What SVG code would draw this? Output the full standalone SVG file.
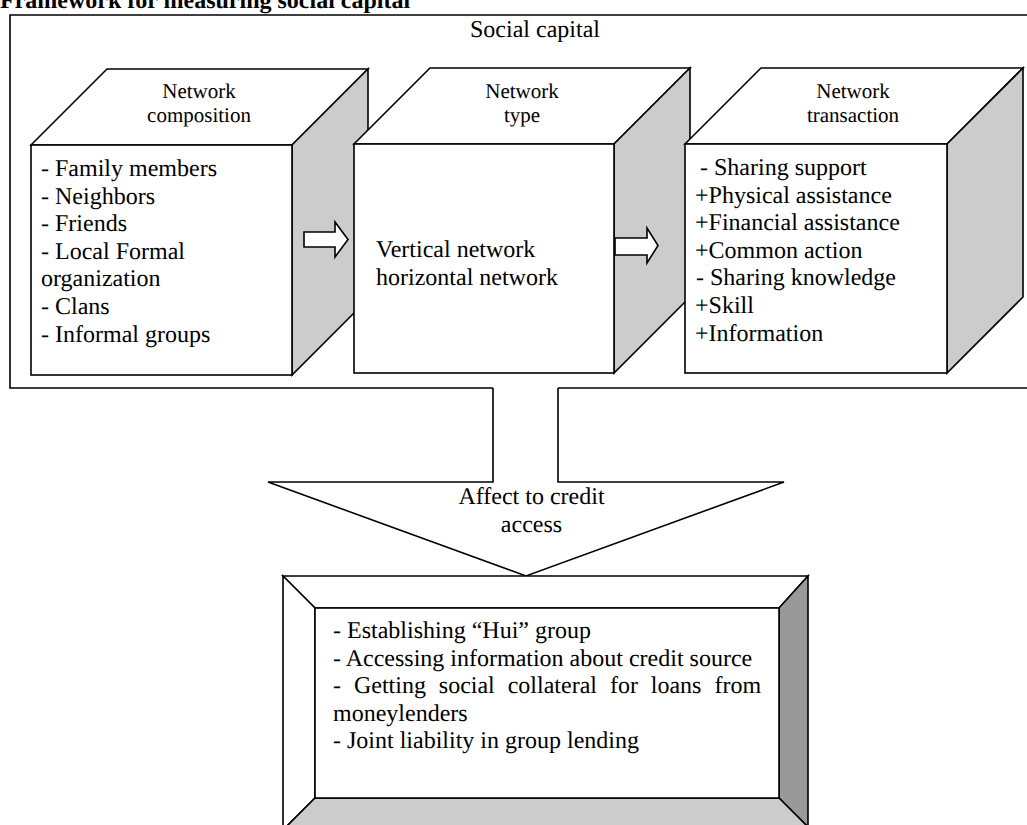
<svg xmlns="http://www.w3.org/2000/svg" width="1027" height="825" viewBox="0 0 1027 825" text-rendering="geometricPrecision">
<style>
text{font-family:"Liberation Serif","Times New Roman",serif;fill:#000;text-rendering:geometricPrecision}
.ln{fill:none;stroke:#000;stroke-width:1.6}
.w{fill:#fff;stroke:#000;stroke-width:1.6;stroke-linejoin:miter}
.g{fill:#cccccc;stroke:#000;stroke-width:1.6}
.dg{fill:#999999;stroke:#000;stroke-width:1.6}
.lbl{font-family:"Liberation Serif","Times New Roman",serif;font-size:21px;text-anchor:middle}
.bt{font-family:"Liberation Serif","Times New Roman",serif;font-size:24px}
</style>
<rect width="1027" height="825" fill="#fff"/>
<text x="0" y="8" font-family="Liberation Serif, Times New Roman, serif" font-size="24" font-weight="bold">Framework for measuring social capital</text>
<g id="frame">
<path class="ln" d="M493,388 L10,388 L10,15 L1027,15"/>
<path class="ln" d="M558,388 L1027,388"/>
<text x="535" y="37" class="bt" text-anchor="middle">Social capital</text>
</g>
<g id="composition">
<polygon class="w" points="31,145 107,69 368,69 292,145"/>
<polygon class="g" points="292,145 368,69 368,299 292,375"/>
<rect class="w" x="31" y="145" width="261" height="230"/>
<text class="lbl" x="199" y="98">Network</text>
<text class="lbl" x="199" y="121.5">composition</text>
<text class="bt" x="41" y="176">- Family members</text>
<text class="bt" x="41" y="203.6">- Neighbors</text>
<text class="bt" x="41" y="231.2">- Friends</text>
<text class="bt" x="41" y="258.8">- Local Formal</text>
<text class="bt" x="41" y="286.4">organization</text>
<text class="bt" x="41" y="314">- Clans</text>
<text class="bt" x="41" y="341.6">- Informal groups</text>
</g>
<g id="connectors">
<polygon class="w" points="304,232 335,232 335,222 348,239.5 335,257 335,247 304,247"/>
<path class="w" d="M493,388 L493,482 L268,482 L526,576 L784,482 L558,482 L558,388"/>
<text class="bt" x="531.5" y="504" text-anchor="middle">Affect to credit</text>
<text class="bt" x="531.5" y="531.6" text-anchor="middle">access</text>
</g>
<g id="type">
<polygon class="w" points="354,144 430,68 690,68 614,144"/>
<polygon class="g" points="614,144 690,68 690,297 614,373"/>
<rect class="w" x="354" y="144" width="260" height="229"/>
<text class="lbl" x="522" y="98">Network</text>
<text class="lbl" x="522" y="121.5">type</text>
<text class="bt" x="376" y="257">Vertical network</text>
<text class="bt" x="376" y="284.6">horizontal network</text>
</g>
<g id="arrow2">
<polygon class="w" points="615,238 647,238 647,228 658,245.5 647,263 647,255 615,255"/>
</g>
<g id="transaction">
<polygon class="w" points="685,144 761,68 1023,68 947,144"/>
<polygon class="g" points="947,144 1023,68 1023,297 947,373"/>
<rect class="w" x="685" y="144" width="262" height="229"/>
<text class="lbl" x="853" y="98">Network</text>
<text class="lbl" x="853" y="121.5">transaction</text>
<text class="bt" x="700" y="175">- Sharing support</text>
<text class="bt" x="695" y="202.6">+Physical assistance</text>
<text class="bt" x="695" y="230.2">+Financial assistance</text>
<text class="bt" x="695" y="257.8">+Common action</text>
<text class="bt" x="696" y="285.4">- Sharing knowledge</text>
<text class="bt" x="695" y="313">+Skill</text>
<text class="bt" x="695" y="340.6">+Information</text>
</g>
<g id="credit">
<polygon class="w" points="283,576 808,576 779,608 315,608"/>
<polygon class="w" points="283,576 315,608 315,798 283,830"/>
<polygon class="dg" points="808,576 779,608 779,798 808,827"/>
<polygon class="g" points="315,798 779,798 808,827 808,840 283,840 283,830"/>
<rect class="w" x="315" y="608" width="464" height="190"/>
<text class="bt" x="333" y="638">- Establishing “Hui” group</text>
<text class="bt" x="333" y="665.5">- Accessing information about credit source</text>
<text class="bt" y="693"><tspan x="333">-</tspan><tspan x="353.9">Getting</tspan><tspan x="438.8">social</tspan><tspan x="507.7">collateral</tspan><tspan x="609.9">for</tspan><tspan x="650.8">loans</tspan><tspan x="714.4">from</tspan></text>
<text class="bt" x="333" y="720.5">moneylenders</text>
<text class="bt" x="333" y="748">- Joint liability in group lending</text>
</g>
</svg>
